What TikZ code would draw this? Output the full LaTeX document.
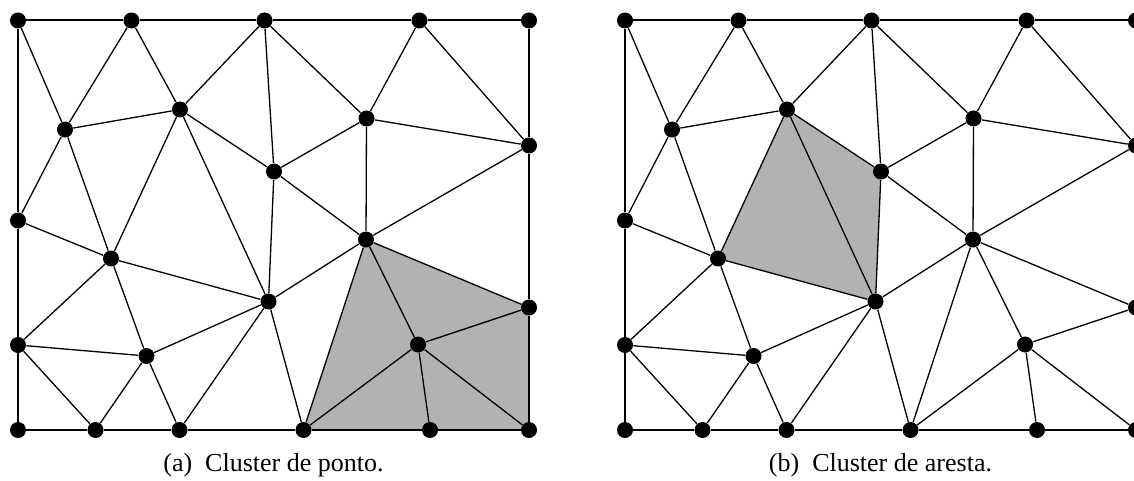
\documentclass[tikz,border=0pt]{standalone}
\usepackage{fontspec}
\setmainfont{Liberation Serif}
\usetikzlibrary{backgrounds}

\tikzset{
  vtx/.style={circle, fill=black, inner sep=0pt, minimum size=8pt},
  meshedge/.style={line width=0.65pt},
  rim/.style={line width=1pt},
  cluster/.style={fill=black!30},
  subcap/.style={font=\fontsize{13}{15}\selectfont, anchor=base, inner sep=0pt}
}

% Triangulated mesh; #1 is the prefix of the node names
\newcommand\drawmesh[1]{%
  \node[vtx] (#1-TL) at (18,20.5) {};
  \node[vtx] (#1-A2) at (131.5,20.5) {};
  \node[vtx] (#1-A3) at (264.5,20.5) {};
  \node[vtx] (#1-A4) at (419.5,20.5) {};
  \node[vtx] (#1-TR) at (529,20.5) {};
  \node[vtx] (#1-B1) at (65,129.5) {};
  \node[vtx] (#1-B2) at (180,109.5) {};
  \node[vtx] (#1-B3) at (274,171.5) {};
  \node[vtx] (#1-B4) at (366.5,118.5) {};
  \node[vtx] (#1-B5) at (529,145.5) {};
  \node[vtx] (#1-L1) at (18,220.5) {};
  \node[vtx] (#1-C1) at (111,258.5) {};
  \node[vtx] (#1-C2) at (268.5,301.5) {};
  \node[vtx] (#1-C3) at (366,239.5) {};
  \node[vtx] (#1-R1) at (529,307.5) {};
  \node[vtx] (#1-L2) at (18,345) {};
  \node[vtx] (#1-D1) at (146.5,356) {};
  \node[vtx] (#1-D2) at (418,344.5) {};
  \node[vtx] (#1-BL) at (18,430) {};
  \node[vtx] (#1-E1) at (95.5,430) {};
  \node[vtx] (#1-E2) at (179.5,430) {};
  \node[vtx] (#1-E3) at (303.5,430) {};
  \node[vtx] (#1-E4) at (430,430) {};
  \node[vtx] (#1-BR) at (529,430) {};
  % outer boundary
  \foreach \u/\v in {TL/A2, A2/A3, A3/A4, A4/TR, TR/B5, B5/R1, R1/BR,
                     BR/E4, E4/E3, E3/E2, E2/E1, E1/BL, BL/L2, L2/L1, L1/TL}
    \draw[rim] (#1-\u) -- (#1-\v);
  % interior edges
  \foreach \u/\v in {TL/B1, A2/B1, A2/B2, A3/B2, A3/B3, A3/B4, A4/B4, A4/B5,
                     B1/B2, B1/L1, B1/C1, B2/C1, B2/C2, B2/B3, B3/C2, B3/B4,
                     B3/C3, B4/C3, B4/B5, B5/C3, L1/C1, C1/C2, C1/L2, C1/D1,
                     L2/D1, L2/E1, D1/E1, D1/E2, C2/D1, C2/E2, C2/E3, C2/C3,
                     C3/E3, C3/D2, C3/R1, D2/R1, D2/E3, D2/E4, D2/BR}
    \draw[meshedge] (#1-\u) -- (#1-\v);
}

\begin{document}
\begin{tikzpicture}[x=0.5pt, y=-0.5pt]
  \useasboundingbox (0,0) rectangle (1134,481);

  % (a) point cluster
  \drawmesh{a}
  \begin{pgfonlayer}{background}
    \fill[cluster] (a-E3.center) -- (a-C3.center) -- (a-R1.center) -- (a-BR.center) -- cycle;
  \end{pgfonlayer}
  \node[subcap] (capa) at (273.5,471) {(a)\enspace Cluster de ponto.};

  % (b) edge cluster
  \begin{scope}[shift={(607,0)}]
    \drawmesh{b}
    \begin{pgfonlayer}{background}
      \fill[cluster] (b-B2.center) -- (b-B3.center) -- (b-C2.center) -- (b-C1.center) -- cycle;
    \end{pgfonlayer}
    \node[subcap] (capb) at (273.5,471) {(b)\enspace Cluster de aresta.};
  \end{scope}
\end{tikzpicture}
\end{document}
